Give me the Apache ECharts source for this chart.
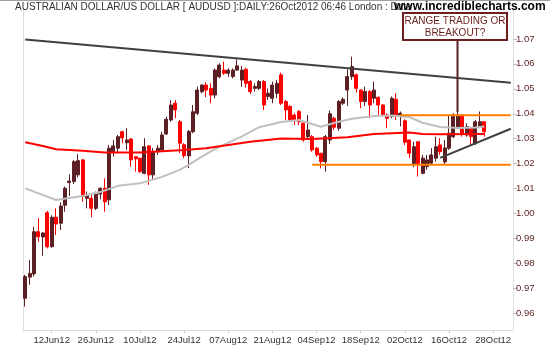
<!DOCTYPE html>
<html><head><meta charset="utf-8">
<script src="https://cdn.jsdelivr.net/npm/echarts@6/dist/echarts.min.js"></script>
<style>html,body{margin:0;padding:0;background:#fff}#c{width:550px;height:350px}</style>
</head><body><div id="c"></div>
<script>
// ---- data ----
const tickIndex = [6,16,26,36,46,56,66,76,86,96,106];
const tickLabels = ['12Jun12','26Jun12','10Jul12','24Jul12','07Aug12','21Aug12','04Sep12','18Sep12','02Oct12','16Oct12','28Oct12'];
const yTicks = [0.96,0.97,0.98,0.99,1.00,1.01,1.02,1.03,1.04,1.05,1.06,1.07];

const opens = [0.9660,0.9745,0.9758,0.9927,0.9906,1.0003,0.9867,0.9985,0.9961,1.0033,
1.0124,1.0128,1.0155,1.0215,1.0061,1.0061,1.0021,1.0078,1.0101,1.0055,
1.0248,1.0262,1.0328,1.0284,1.0299,1.0228,1.0222,1.0161,1.0271,1.0155,
1.0248,1.0255,1.0319,1.0375,1.0442,1.0368,1.0276,1.0231,1.0328,1.0402,
1.0488,1.0515,1.0502,1.0475,1.0548,1.0575,1.0562,1.0549,1.0575,1.0535,
1.0578,1.0529,1.0502,1.0502,1.0529,1.0469,1.0462,1.0482,1.0556,1.0449,
1.0429,1.0395,1.0409,1.0362,1.0308,1.0308,1.0262,1.0242,1.0208,1.0295,
1.0382,1.0342,1.0442,1.0495,1.0549,1.0556,1.0495,1.0449,1.0489,1.0462,
1.0466,1.0435,1.0395,1.0389,1.0458,1.0395,1.0372,1.0295,1.0200,1.0288,
1.0161,1.0188,1.0202,1.0222,1.0275,1.0207,1.0262,1.0308,1.0348,1.0395,
1.0315,1.0342,1.0282,1.0348,1.0368];
const closes = [0.9747,0.9760,0.9927,0.9907,0.9922,0.9867,0.9985,0.9958,1.0030,1.0101,
1.0130,1.0208,1.0212,1.0068,1.0074,1.0021,1.0078,1.0101,1.0047,1.0262,
1.0271,1.0308,1.0303,1.0295,1.0215,1.0219,1.0168,1.0268,1.0155,1.0248,
1.0262,1.0315,1.0378,1.0435,1.0415,1.0282,1.0232,1.0329,1.0408,1.0495,
1.0515,1.0495,1.0475,1.0575,1.0595,1.0562,1.0575,1.0575,1.0592,1.0575,
1.0522,1.0489,1.0509,1.0529,1.0435,1.0482,1.0515,1.0522,1.0442,1.0415,
1.0375,1.0375,1.0368,1.0295,1.0335,1.0255,1.0235,1.0208,1.0308,1.0400,
1.0346,1.0449,1.0458,1.0549,1.0589,1.0502,1.0449,1.0489,1.0435,1.0495,
1.0435,1.0395,1.0382,1.0462,1.0395,1.0402,1.0286,1.0242,1.0268,1.0195,
1.0222,1.0215,1.0235,1.0268,1.0248,1.0263,1.0322,1.0395,1.0395,1.0322,
1.0348,1.0308,1.0368,1.0368,1.0328];
const lows = [0.9627,0.9714,0.9747,0.9887,0.9830,0.9860,0.9863,0.9914,0.9934,1.0007,
1.0070,1.0118,1.0145,1.0048,1.0021,0.9985,1.0014,1.0057,1.0007,1.0034,
1.0228,1.0242,1.0282,1.0255,1.0188,1.0168,1.0162,1.0157,1.0115,1.0135,
1.0235,1.0248,1.0315,1.0368,1.0382,1.0242,1.0222,1.0182,1.0322,1.0395,
1.0482,1.0467,1.0442,1.0462,1.0542,1.0556,1.0548,1.0542,1.0573,1.0508,
1.0505,1.0479,1.0489,1.0495,1.0415,1.0455,1.0442,1.0462,1.0435,1.0375,
1.0368,1.0355,1.0355,1.0288,1.0295,1.0248,1.0228,1.0181,1.0168,1.0279,
1.0335,1.0332,1.0435,1.0431,1.0536,1.0485,1.0422,1.0431,1.0382,1.0442,
1.0395,1.0389,1.0342,1.0382,1.0375,1.0349,1.0275,1.0222,1.0186,1.0148,
1.0158,1.0175,1.0195,1.0208,1.0235,1.0195,1.0255,1.0302,1.0348,1.0308,
1.0308,1.0275,1.0275,1.0342,1.0308];
const highs = [0.9754,0.9814,0.9947,0.9982,0.9925,1.0011,0.9993,1.0021,1.0045,1.0108,
1.0157,1.0215,1.0238,1.0219,1.0088,1.0074,1.0088,1.0105,1.0141,1.0275,
1.0295,1.0315,1.0332,1.0342,1.0302,1.0228,1.0222,1.0302,1.0275,1.0262,
1.0275,1.0328,1.0388,1.0455,1.0455,1.0375,1.0282,1.0335,1.0435,1.0509,
1.0518,1.0527,1.0522,1.0582,1.0602,1.0609,1.0582,1.0582,1.0619,1.0592,
1.0585,1.0535,1.0522,1.0535,1.0535,1.0502,1.0529,1.0535,1.0565,1.0455,
1.0435,1.0402,1.0415,1.0368,1.0395,1.0315,1.0268,1.0242,1.0315,1.0413,
1.0388,1.0455,1.0466,1.0578,1.0629,1.0562,1.0498,1.0509,1.0495,1.0529,
1.0469,1.0439,1.0402,1.0469,1.0482,1.0409,1.0378,1.0295,1.0288,1.0288,
1.0235,1.0235,1.0262,1.0308,1.0302,1.0295,1.0395,1.0402,1.0422,1.0395,
1.0362,1.0348,1.0375,1.0409,1.0368];

// moving averages read at sample bars
const maGrayIdx = [0,7,13,17,21,26,31,35,37,40,44,49,53,58,62,65,67,71,74,79,83,87,90,94,98,102,104];
const maGrayVal = [1.0101,1.0054,1.0070,1.0086,1.0111,1.0121,1.0147,1.0175,1.0195,1.0228,1.0268,1.0308,1.0346,1.0367,1.0375,1.0359,1.0348,1.0368,1.0380,1.0391,1.0393,1.0387,1.0364,1.0347,1.0343,1.0345,1.0349];
const maRedIdx = [0,4,7,13,18,26,36,41,46,51,58,65,73,79,87,90,94,104];
const maRedVal = [1.0286,1.0271,1.0258,1.0252,1.0245,1.0245,1.0255,1.0262,1.0275,1.0288,1.0301,1.0299,1.0306,1.0319,1.0325,1.0319,1.0318,1.0319];

// drawn trend lines: [startIndex, startValue, endIndex, endValue]
const resistanceLine = [0, 1.0698, 110, 1.0524];
const supportLine = [94, 1.0223, 110, 1.0340];
const rangeTop = [85, 1.0394, 110, 1.0394];
const rangeBottom = [65, 1.0196, 110, 1.0196];

// categories: trading days from 4 Jun 2012 plus blank slots to the right edge
const months = ['Jan','Feb','Mar','Apr','May','Jun','Jul','Aug','Sep','Oct','Nov','Dec'];
const categories = [];
(function(){
  const d = new Date(Date.UTC(2012,5,4));
  while (categories.length < 111) {
    const wd = d.getUTCDay();
    if (wd !== 0 && wd !== 6) {
      const dd = String(d.getUTCDate()).padStart(2,'0');
      categories.push(dd + months[d.getUTCMonth()] + '12');
    }
    d.setUTCDate(d.getUTCDate()+1);
  }
})();

const candleData = opens.map((o,i)=>[o, closes[i], lows[i], highs[i]]);
const pairs = (idx, val) => idx.map((x,i)=>[x, val[i]]);
const seg = s => [[s[0], s[1]], [s[2], s[3]]];

const FONT = 'Liberation Sans, Arial, sans-serif';
const chart = echarts.init(document.getElementById('c'), null, {renderer:'canvas'});
const lineSeries = (data, color, width, z) => ({
  type:'line', data, showSymbol:false, symbol:'none', connectNulls:true,
  lineStyle:{color, width}, z, silent:true, animation:false
});
chart.setOption({
  animation:false,
  backgroundColor:'#fff',
  grid:{left:23, right:37, top:8, bottom:20},
  xAxis:{
    type:'category', data:categories, boundaryGap:true,
    axisLine:{show:true, lineStyle:{color:'#dddddd', width:1}},
    axisTick:{show:true, alignWithLabel:true, interval:(i)=>tickIndex.includes(i), length:3, lineStyle:{color:'#c8c8c8'}},
    axisLabel:{interval:(i)=>tickIndex.includes(i), formatter:(v,i)=>{const k=tickIndex.indexOf(i);return k>=0?tickLabels[k]:'';},
      color:'#333', fontSize:9.5, fontFamily:FONT, margin:5},
    splitLine:{show:false}
  },
  yAxis:[{
    type:'value', position:'right', min:0.9533, max:1.0824, scale:true,
    axisLine:{show:true, lineStyle:{color:'#dddddd', width:1}},
    axisTick:{show:true, customValues:yTicks, length:4, lineStyle:{color:'#bbbbbb'}},
    axisLabel:{customValues:yTicks, formatter:v=>v.toFixed(2), color:'#5a1e1e', fontSize:9.5, fontFamily:FONT, margin:3},
    splitLine:{show:false}
  },{
    type:'value', position:'left', min:0.9533, max:1.0824,
    axisLine:{show:true, lineStyle:{color:'#dddddd', width:1}},
    axisTick:{show:false}, axisLabel:{show:false}, splitLine:{show:false}
  }],
  series:[
    {type:'candlestick', data:candleData, barWidth:3.5, z:3,
      itemStyle:{color:'#5c2024', color0:'#ff0000', borderColor:'#5c2024', borderColor0:'#ff0000', borderWidth:1}},
    lineSeries(pairs(maGrayIdx, maGrayVal), '#c0c0c0', 2, 4),
    lineSeries(pairs(maRedIdx, maRedVal), '#ff0000', 2, 4),
    lineSeries(seg(resistanceLine), '#404040', 2, 5),
    lineSeries(seg(supportLine), '#404040', 2, 5),
    lineSeries(seg(rangeTop), '#ff8000', 2, 5),
    lineSeries(seg(rangeBottom), '#ff8000', 2, 5)
  ],
  graphic:[
    {type:'line', shape:{x1:0,y1:0.5,x2:550,y2:0.5}, style:{stroke:'#a0a0a0', lineWidth:1}, z:10},
    {type:'text', left:15, top:2, style:{text:'AUSTRALIAN DOLLAR/US DOLLAR [ AUDUSD ]:DAILY:26Oct2012 06:46 London : Data', font:'10px '+FONT, fill:'#333'}, z:10},
    {type:'text', left:394, top:1, style:{text:'www.incrediblecharts.com', font:'bold 12px '+FONT, fill:'#000'}, z:11},
    {type:'line', shape:{x1:457.5,y1:40,x2:457.5,y2:112}, style:{stroke:'#5c2024', lineWidth:2}, z:12},
    {type:'rect', shape:{x:403,y:13,width:104,height:27}, style:{fill:'#fff', stroke:'#6b1f1f', lineWidth:2}, z:12},
    {type:'text', x:455, y:15, style:{text:'RANGE TRADING OR\nBREAKOUT?', font:'10px '+FONT, fill:'#6b1f1f', align:'center', lineHeight:12}, z:13}
  ]
});
</script></body></html>
